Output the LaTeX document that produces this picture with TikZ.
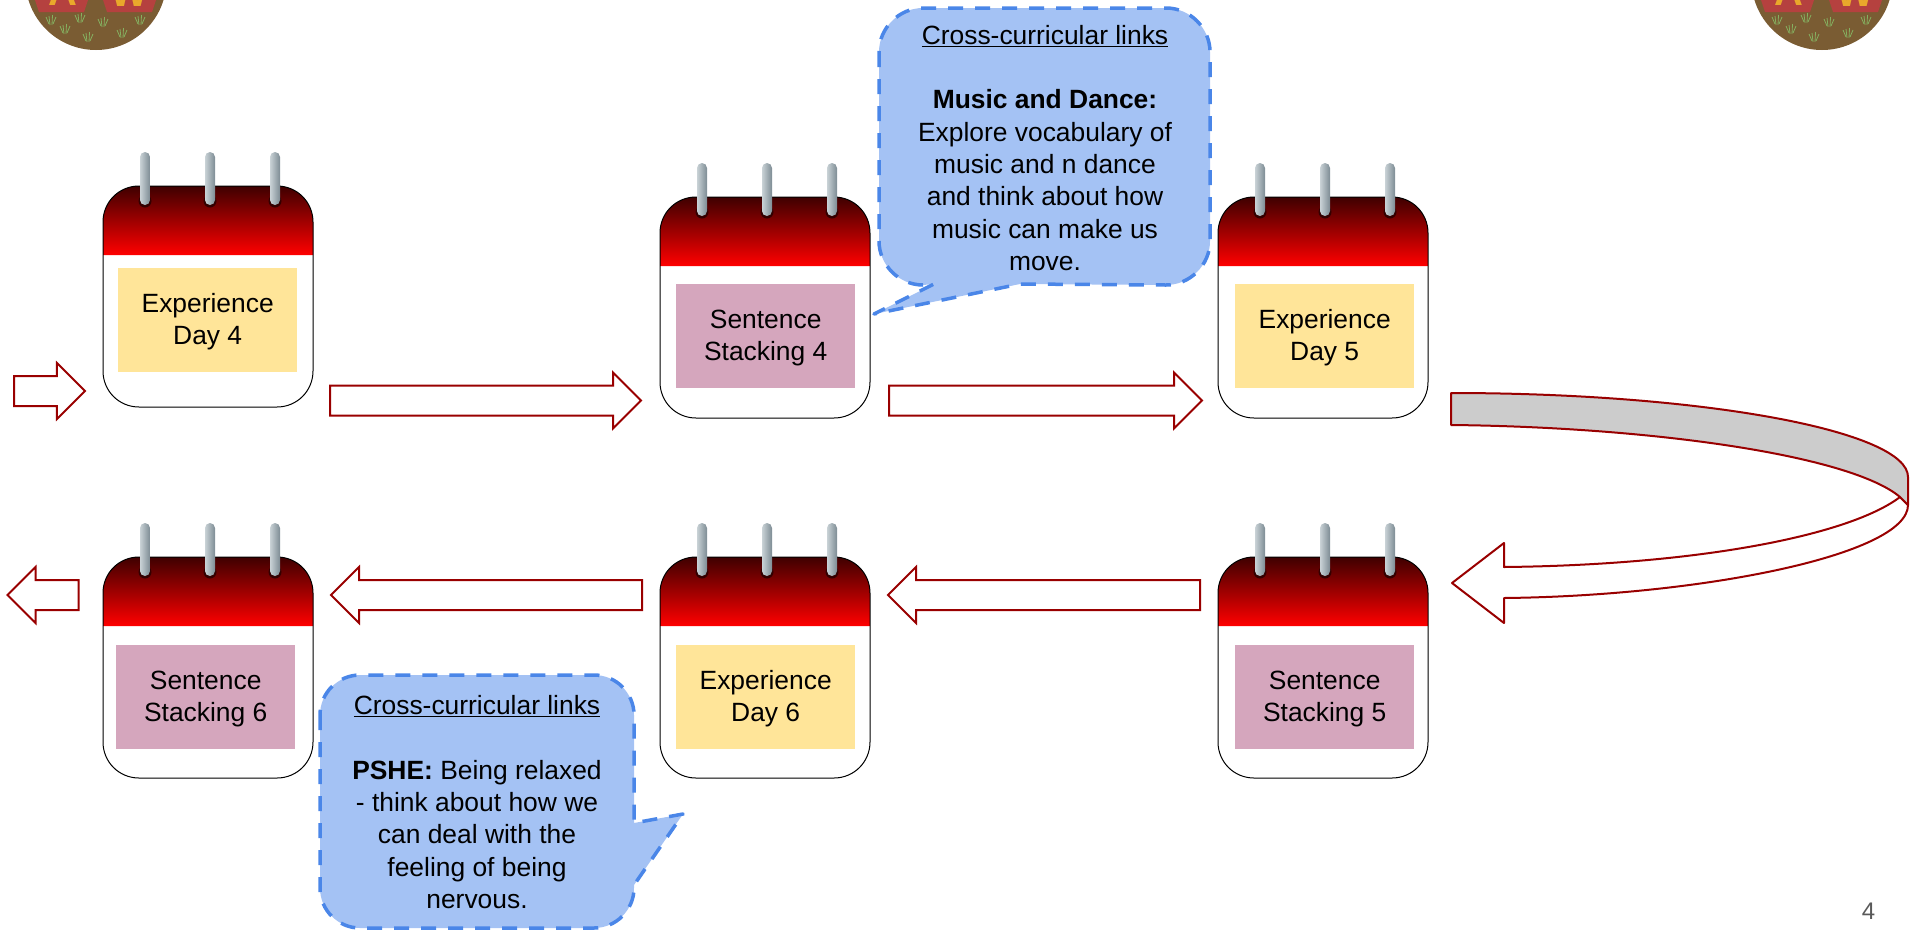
\documentclass[tikz,border=0pt]{standalone}
\usepackage{fontspec}
\setmainfont{Liberation Sans}
\usetikzlibrary{shapes.arrows}
\definecolor{arrowRed}{HTML}{990000}
\definecolor{noteFill}{HTML}{A4C2F4}
\definecolor{noteLine}{HTML}{4A86E8}
\definecolor{dayYellow}{HTML}{FFE599}
\definecolor{stackPink}{HTML}{D5A6BD}
\definecolor{logoBrown}{HTML}{7A5C33}
\definecolor{logoRed}{HTML}{B5413F}
\definecolor{logoGold}{HTML}{E9A82B}
\definecolor{grassGreen}{HTML}{85B060}
\definecolor{ringLeft}{HTML}{C9D2D6}
\definecolor{ringMid}{HTML}{EEF2F4}
\definecolor{ringRight}{HTML}{7D8C94}
\newcommand{\topPad}{\rule{0pt}{22.5pt}}
\tikzset{
	bodyText/.style={font=\fontsize{26.4}{32.3}\selectfont, align=center, text=black},
	blockArrow/.style={single arrow, draw=arrowRed, fill=white, line width=2pt, inner sep=14pt, outer sep=0pt, single arrow head extend=13pt, anchor=tail},
	pinkBox/.style={rectangle, fill=stackPink, bodyText, minimum width=179pt, minimum height=104pt, inner sep=0pt, anchor=north west},
	yellowBox/.style={rectangle, fill=dayYellow, bodyText, minimum width=179pt, minimum height=104pt, inner sep=0pt, anchor=north west},
	noteShape/.style={fill=noteFill, draw=noteLine, line width=3.5pt, line join=round, dash pattern=on 15pt off 12pt},
	foldLine/.style={draw=arrowRed, line width=2pt, line join=round},
	ringBar/.style={rounded corners=5pt, left color=ringLeft, middle color=ringMid, right color=ringRight},
	grassLine/.style={draw=grassGreen, line width=0.8pt},
	calendarPic/.pic={
		\fill[white] (0,35) -- (0,186) arc[start angle=180, end angle=270, radius=35pt] -- (175,221) arc[start angle=270, end angle=360, radius=35pt] -- (210,35) -- cycle;
		\shade[top color=black!30!red!35!black, bottom color=red] (0,69) -- (0,36) .. controls (0,16) and (16,0) .. (36,0) -- (174,0) .. controls (194,0) and (210,16) .. (210,36) -- (210,69) -- cycle;
		\draw[black, line width=1pt] (0,36) -- (0,185) .. controls (0,205) and (16,221) .. (36,221) -- (174,221) .. controls (194,221) and (210,205) .. (210,185) -- (210,36) .. controls (210,16) and (194,0) .. (174,0) -- (36,0) .. controls (16,0) and (0,16) .. (0,36);
		\fill[black!80!red] (42,15) circle[radius=6.5pt];
		\fill[black!80!red] (107,15) circle[radius=6.5pt];
		\fill[black!80!red] (172,15) circle[radius=6.5pt];
		\shade[ringBar] (37,19) rectangle (47,-34);
		\shade[ringBar] (102,19) rectangle (112,-34);
		\shade[ringBar] (167,19) rectangle (177,-34);
	},
	tuftPic/.pic={
		\draw[grassLine] (-2,4) -- (-5,-3);
		\draw[grassLine] (-1,5) -- (-2,-4);
		\draw[grassLine] (1,5) -- (1.5,-5);
		\draw[grassLine] (2,4) -- (5,-3);
	},
	logoPic/.pic={
		\clip (-70,0) rectangle (70,60);
		\fill[logoBrown] (0,-20.6) circle[radius=70.6pt];
		\fill[logoRed] (-61,0) -- (-57,12) -- (-12,12) -- (-8,0) -- cycle;
		\fill[logoRed] (7,0) -- (11,12) -- (56,12) -- (60,0) -- cycle;
		\node[font=\fontsize{40}{40}\bfseries, text=logoGold, inner sep=0pt, anchor=base] (letterA) at (-33,5) {A};
		\node[font=\fontsize{40}{40}\bfseries, text=logoGold, inner sep=0pt, anchor=base] (letterW) at (33,6) {W};
		\pic at (-45,20) {tuftPic};
		\pic at (-31,29) {tuftPic};
		\pic at (-16,18) {tuftPic};
		\pic at (-8,37) {tuftPic};
		\pic at (7,22) {tuftPic};
		\pic at (26,33) {tuftPic};
		\pic at (44,20) {tuftPic};
	},
}
\begin{document}
\begin{tikzpicture}[x=1pt,y=-1pt]
	\useasboundingbox (0,0) rectangle (1911,930);

	% draw logos
	\pic (logoLeft) at (96,0) {logoPic};
	\pic (logoRight) at (1822,0) {logoPic};

	% draw calendars
	\pic (calOne) at (103,186) {calendarPic};
	\pic (calTwo) at (660,197) {calendarPic};
	\pic (calThree) at (1218,197) {calendarPic};
	\pic (calFour) at (1218,557) {calendarPic};
	\pic (calFive) at (660,557) {calendarPic};
	\pic (calSix) at (103,557) {calendarPic};

	% draw text boxes
	\node[yellowBox](expFour) at (118,268){\topPad Experience\\Day 4};
	\node[pinkBox](stackFour) at (676,284){\topPad Sentence\\Stacking 4};
	\node[yellowBox](expFive) at (1235,284){\topPad Experience\\Day 5};
	\node[pinkBox](stackFive) at (1235,645){\topPad Sentence\\Stacking 5};
	\node[yellowBox](expSix) at (676,645){\topPad Experience\\Day 6};
	\node[pinkBox](stackSix) at (116,645){\topPad Sentence\\Stacking 6};

	% draw straight arrows
	\node[blockArrow, minimum height=71pt](arrowIn) at (14,391){};
	\node[blockArrow, minimum height=311pt](arrowOneTwo) at (330,400.5){};
	\node[blockArrow, minimum height=313pt](arrowTwoThree) at (889,400.5){};
	\node[blockArrow, minimum height=312pt, shape border rotate=180](arrowFourFive) at (1200,595){};
	\node[blockArrow, minimum height=311pt, shape border rotate=180](arrowFiveSix) at (642,595){};
	\node[blockArrow, minimum height=71pt, shape border rotate=180](arrowOut) at (78.5,595){};

	% draw curved arrow
	\draw[foldLine, fill=white] (1908,505) .. controls (1908,555) and (1700,596) .. (1504,598) -- (1504,623) -- (1452,583) -- (1504,543) -- (1504,567) .. controls (1700,565) and (1850,535) .. (1900,497) -- cycle;
	\draw[foldLine, fill=black!20] (1451,393) .. controls (1703,393) and (1908,431) .. (1908,477) -- (1908,505) .. controls (1906,503) and (1903,500) .. (1900,497) .. controls (1850,455) and (1650,427) .. (1451,425) -- cycle;

	% draw callouts
	\draw[noteShape] (879,52) -- (879,241) .. controls (879,265) and (899,285) .. (923,285) -- (934,284) -- (874,314) -- (1020,284) -- (1166,285) .. controls (1190,285) and (1210,265) .. (1210,241) -- (1210,52) .. controls (1210,28) and (1190,8) .. (1166,8) -- (923,8) .. controls (899,8) and (879,28) .. (879,52) -- cycle;
	\draw[noteShape] (320,715) -- (320,888) .. controls (320,910) and (338,928) .. (360,928) -- (594,928) .. controls (616,928) and (634,910) .. (634,888) -- (634,885) -- (683,814) -- (634,823) -- (634,715) .. controls (634,693) and (616,675) .. (594,675) -- (360,675) .. controls (338,675) and (320,693) .. (320,715) -- cycle;
	\node[bodyText, inner sep=0pt](noteMusic) at (1045,148){\underline{Cross-curricular links}\\[32.3pt]\textbf{Music and Dance:}\\Explore vocabulary of\\music and n dance\\and think about how\\music can make us\\move.};
	\node[bodyText, inner sep=0pt](notePshe) at (477,802){\underline{Cross-curricular links}\\[32.3pt]\textbf{PSHE:} Being relaxed\\- think about how we\\can deal with the\\feeling of being\\nervous.};

	% draw page number
	\node[font=\fontsize{24}{24}\selectfont, text=black!65, inner sep=0pt](pageNum) at (1868.5,911){4};
\end{tikzpicture}
\end{document}
